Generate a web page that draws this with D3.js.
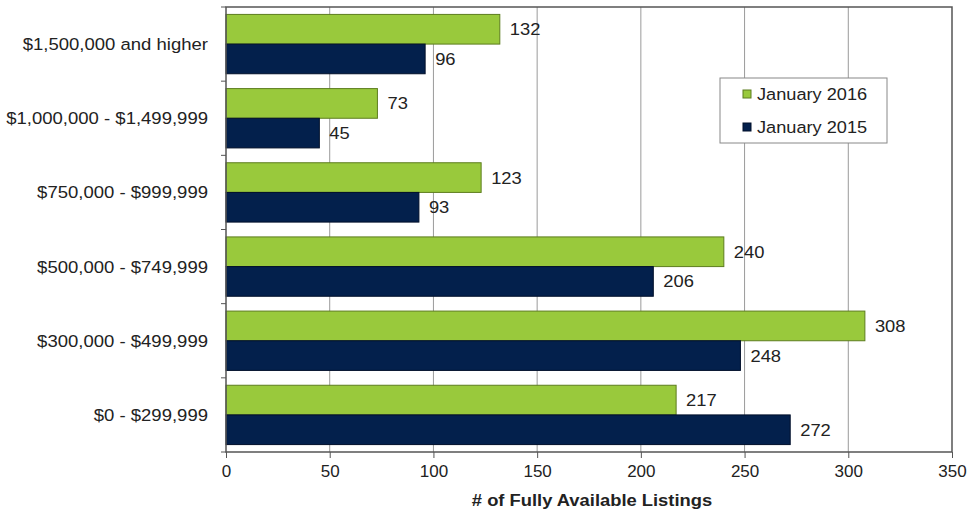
<!DOCTYPE html>
<html>
<head>
<meta charset="utf-8">
<script src="https://cdn.jsdelivr.net/npm/d3@7"></script>
<style>
  body { margin:0; background:#fff; }
  text { font-family:"Liberation Sans", Arial, sans-serif; fill:#222; }
</style>
</head>
<body>
<svg id="chart" width="968" height="510"></svg>
<script>
// data
var categories = ["$1,500,000 and higher","$1,000,000 - $1,499,999","$750,000 - $999,999",
                  "$500,000 - $749,999","$300,000 - $499,999","$0 - $299,999"];
var jan2016 = [132,73,123,240,308,217];
var jan2015 = [96,45,93,206,248,272];
var seriesNames = ["January 2016","January 2015"];
var xTicks = [0,50,100,150,200,250,300,350];

var colors = ["#99c93c","#03204c"];
var strokes = ["#5d7d1e","#000f2a"];

var margins = {left:226,right:16,top:7,bottom:58};
var screen = {width:968,height:510};
var graph = {
    width: screen.width-margins.left-margins.right,
    height: screen.height-margins.top-margins.bottom
};

// text in the picture is a bit wider than the font, stretch it a little
var stretch = function(x,y,sx){
    return "translate("+x+","+y+") scale("+sx+",1)";
}

var svg = d3.select("#chart");

var xScale = d3.scaleLinear().domain([0,350]).range([0,graph.width]);
var yScale = d3.scaleBand().domain(categories).range([0,graph.height])
                .paddingInner(0.2).paddingOuter(0.1);
var subScale = d3.scaleBand().domain([0,1]).range([0,yScale.bandwidth()]);

var g = svg.append("g")
    .attr("transform","translate("+margins.left+","+margins.top+")");

// gridlines
g.selectAll(".grid").data(xTicks.slice(1,-1)).enter().append("line")
    .attr("x1",function(d){return xScale(d);})
    .attr("x2",function(d){return xScale(d);})
    .attr("y1",0).attr("y2",graph.height)
    .attr("stroke","#9a9a9a").attr("stroke-width",1);

// bars
var rows = categories.map(function(c,i){
    return {cat:c, vals:[jan2016[i], jan2015[i]]};
});
var groups = g.selectAll(".grp").data(rows).enter().append("g")
    .attr("transform",function(d){return "translate(0,"+yScale(d.cat)+")";});

groups.selectAll("rect").data(function(d){return d.vals;}).enter().append("rect")
    .attr("x",0)
    .attr("y",function(d,i){return subScale(i);})
    .attr("width",function(d){return xScale(d);})
    .attr("height",subScale.bandwidth())
    .attr("fill",function(d,i){return colors[i];})
    .attr("stroke",function(d,i){return strokes[i];})
    .attr("stroke-width",1);

groups.selectAll(".val").data(function(d){return d.vals;}).enter().append("text")
    .attr("transform",function(d,i){
        return stretch(xScale(d)+10, subScale(i)+subScale.bandwidth()/2, 1.08);})
    .attr("dy","0.35em")
    .style("font-size","17px")
    .text(function(d){return d;});

// plot border
g.append("rect")
    .attr("x",0).attr("y",0)
    .attr("width",graph.width).attr("height",graph.height)
    .attr("fill","none").attr("stroke","#555").attr("stroke-width",1.5);

// axes
var xAxis = d3.axisBottom(xScale).tickValues(xTicks).tickSize(6).tickPadding(7);
var ax = g.append("g")
    .attr("transform","translate(0,"+graph.height+")")
    .call(xAxis);
ax.select(".domain").remove();
ax.selectAll("line").attr("stroke","#555");
ax.selectAll("text").style("font-size","17px").attr("fill","#222");

// y category boundary ticks
var bounds = d3.range(categories.length+1).map(function(i){return i*yScale.step();});
g.selectAll(".ytick").data(bounds).enter().append("line")
    .attr("x1",-5).attr("x2",0)
    .attr("y1",function(d){return d;}).attr("y2",function(d){return d;})
    .attr("stroke","#555");

g.selectAll(".cat").data(categories).enter().append("text")
    .attr("transform",function(d){
        return stretch(-18, yScale(d)+yScale.bandwidth()/2, 1.09);})
    .attr("dy","0.35em")
    .attr("text-anchor","end")
    .style("font-size","17px")
    .text(function(d){return d;});

// axis title
svg.append("text")
    .attr("transform",stretch(margins.left+graph.width/2+3,506,1.08))
    .attr("text-anchor","middle")
    .style("font-size","17px")
    .style("font-weight","bold")
    .text("# of Fully Available Listings");

// legend
var legend = svg.append("g").attr("transform","translate(720,78)");
legend.append("rect")
    .attr("width",167).attr("height",65)
    .attr("fill","#fff").attr("stroke","#888").attr("stroke-width",1);
var items = legend.selectAll(".item").data(seriesNames).enter().append("g")
    .attr("transform",function(d,i){return "translate(23,"+(16+i*33)+")";});
items.append("rect")
    .attr("x",0).attr("y",-4).attr("width",8).attr("height",8)
    .attr("fill",function(d,i){return colors[i];})
    .attr("stroke",function(d,i){return strokes[i];});
items.append("text")
    .attr("transform",stretch(14,0,1.07))
    .attr("dy","0.35em")
    .style("font-size","17px")
    .text(function(d){return d;});
</script>
</body>
</html>
